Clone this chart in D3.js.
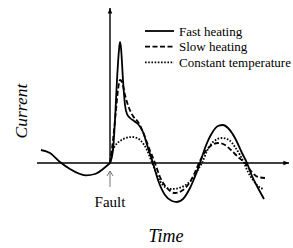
<!DOCTYPE html>
<html lang="en">
<head>
<meta charset="utf-8">
<title>Fault current</title>
<script src="https://d3js.org/d3.v7.min.js"></script>
<style>
  body { margin: 0; background: #fff; }
  svg { display: block; }
  text { font-family: "Liberation Serif", "Times New Roman", serif; fill: #000; }
</style>
</head>
<body>
<div class="chart"></div>
<script>
// pre-fault waveform shared by all three cases (time, current)
const preFault = [[-3.45,0.325],[-3.0,0.25],[-2.5,0.025],[-2.0,-0.15],[-1.5,-0.275],[-1.2,-0.31],[-0.75,-0.275],[-0.35,-0.15],[0,0]];

const fastHeating = [[0,0],[0.15,0.325],[0.25,1.075],[0.35,2.075],[0.45,2.825],[0.5,3.025],[0.55,2.875],[0.65,2.075],[0.75,1.45],[0.85,1.225],[1.0,1.125],[1.2,1.05],[1.4,0.975],[1.65,0.775],[1.9,0.375],[2.15,0],[2.4,-0.425],[2.75,-0.8],[3.1,-0.95],[3.35,-0.975],[3.65,-0.9],[4.0,-0.625],[4.3,-0.275],[4.5,0],[4.75,0.375],[5.1,0.75],[5.4,0.925],[5.65,0.95],[5.9,0.875],[6.25,0.625],[6.6,0.25],[6.85,0],[7.1,-0.325],[7.4,-0.625],[7.7,-0.9]];

const slowHeating = [[0,0],[0.15,0.575],[0.3,1.325],[0.4,1.825],[0.5,2.075],[0.6,2.025],[0.75,1.7],[0.95,1.375],[1.15,1.175],[1.4,1.025],[1.65,0.775],[1.95,0.375],[2.25,0],[2.5,-0.35],[2.85,-0.625],[3.25,-0.75],[3.65,-0.675],[4.0,-0.475],[4.3,-0.175],[4.45,0],[4.75,0.275],[5.1,0.45],[5.4,0.5],[5.75,0.45],[6.1,0.3],[6.4,0.15],[6.75,0],[7.05,-0.2],[7.4,-0.35],[7.75,-0.375]];

const constantTemp = [[0,0],[0.1,0.275],[0.25,0.425],[0.5,0.55],[0.8,0.625],[1.1,0.65],[1.35,0.625],[1.6,0.525],[1.85,0.325],[2.05,0.075],[2.25,-0.175],[2.5,-0.45],[2.75,-0.6],[3.05,-0.65],[3.45,-0.625],[3.85,-0.525],[4.2,-0.35],[4.45,-0.125],[4.6,0],[4.85,0.3],[5.15,0.525],[5.6,0.625],[5.95,0.575],[6.25,0.4],[6.5,0.2],[6.7,0],[6.9,-0.225],[7.15,-0.425],[7.4,-0.575],[7.65,-0.65]];

const seriesNames = ["Fast heating", "Slow heating", "Constant temperature"];
const dashes = [null, "5,2.5", "1.6,1.6"];

const width = 293, height = 248;
const x = d3.scaleLinear().domain([-3.65, 8.95]).range([37, 289]);
const y = d3.scaleLinear().domain([0, 3.875]).range([163, 8]);

const svg = d3.select(".chart").append("svg")
    .attr("width", width)
    .attr("height", height);

const defs = svg.append("defs");
defs.append("marker")
    .attr("id", "arrow")
    .attr("viewBox", "0 0 10 10")
    .attr("refX", 10).attr("refY", 5)
    .attr("markerWidth", 4).attr("markerHeight", 4)
    .attr("markerUnits", "strokeWidth")
    .attr("orient", "auto")
    .append("path")
    .attr("d", "M0,1 L10,5 L0,9 Z")
    .attr("fill", "#000");

// axes
svg.append("line")
    .attr("x1", x.range()[0]).attr("x2", x.range()[1])
    .attr("y1", y(0)).attr("y2", y(0))
    .attr("stroke", "#000").attr("stroke-width", 1.4)
    .attr("marker-end", "url(#arrow)");
svg.append("line")
    .attr("x1", x(0)).attr("x2", x(0))
    .attr("y1", y(0)).attr("y2", y.range()[1])
    .attr("stroke", "#000").attr("stroke-width", 1.4)
    .attr("marker-end", "url(#arrow)");

const line = d3.line()
    .x(d => x(d[0]))
    .y(d => y(d[1]))
    .curve(d3.curveMonotoneX);

svg.append("path")
    .attr("d", line(preFault))
    .attr("fill", "none").attr("stroke", "#000").attr("stroke-width", 1.8);

[fastHeating, slowHeating, constantTemp].forEach((s, i) => {
    svg.append("path")
        .attr("d", line(s))
        .attr("fill", "none")
        .attr("stroke", "#000")
        .attr("stroke-width", 1.8)
        .attr("stroke-dasharray", dashes[i]);
});

// fault marker
const fx = x(0);
svg.append("path")
    .attr("d", `M${fx},187 L${fx},171 M${fx - 3},176 L${fx},171 L${fx + 3},176`)
    .attr("fill", "none").attr("stroke", "#777").attr("stroke-width", 1);
svg.append("text")
    .attr("x", fx).attr("y", 207)
    .attr("text-anchor", "middle")
    .attr("font-size", 15)
    .text("Fault");

// legend
const legend = svg.append("g");
seriesNames.forEach((name, i) => {
    const ly = 31 + i * 15.7;
    legend.append("line")
        .attr("x1", 145).attr("x2", 174)
        .attr("y1", ly).attr("y2", ly)
        .attr("stroke", "#000").attr("stroke-width", 1.8)
        .attr("stroke-dasharray", dashes[i]);
    legend.append("text")
        .attr("x", 179).attr("y", ly + 4.5)
        .attr("font-size", 13)
        .attr("textLength", name.length > 15 ? 112 : null)
        .text(name);
});

// axis titles
svg.append("text")
    .attr("transform", "translate(27,111) rotate(-90)")
    .attr("text-anchor", "middle")
    .attr("font-size", 17.5)
    .attr("font-style", "italic")
    .text("Current");
svg.append("text")
    .attr("x", 166).attr("y", 242)
    .attr("text-anchor", "middle")
    .attr("font-size", 18)
    .attr("font-style", "italic")
    .text("Time");
</script>
</body>
</html>
